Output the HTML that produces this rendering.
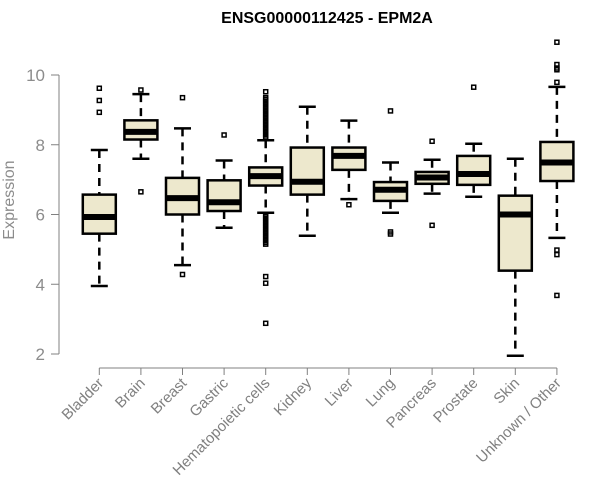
<!DOCTYPE html>
<html><head><meta charset="utf-8"><style>
html,body{margin:0;padding:0;background:#fff;}
svg{display:block;font-family:"Liberation Sans",Arial,sans-serif;}
</style></head><body>
<svg id="chart" width="600" height="500">
<text x="327" y="23" text-anchor="middle" font-size="16" font-weight="bold" fill="#000">ENSG00000112425 - EPM2A</text>
<text transform="translate(14,200) rotate(-90)" text-anchor="middle" font-size="16" fill="#8c8c8c">Expression</text>
<g id="axes"></g>
<g id="boxes"></g>
</svg>
<script>
const categories=["Bladder","Brain","Breast","Gastric","Hematopoietic cells","Kidney","Liver","Lung","Pancreas","Prostate","Skin","Unknown / Other"];
const whiskerLow=[3.95,7.6,4.55,5.62,6.05,5.39,6.44,6.05,6.6,6.51,1.95,5.33];
const q1=[5.45,8.15,6.0,6.1,6.83,6.57,7.28,6.39,6.88,6.85,4.39,6.96];
const medians=[5.93,8.37,6.47,6.35,7.1,6.94,7.68,6.71,7.06,7.16,6.0,7.49];
const q3=[6.57,8.7,7.05,6.98,7.35,7.92,7.92,6.93,7.22,7.68,6.54,8.08];
const whiskerHigh=[7.85,9.45,8.47,7.55,8.13,9.09,8.69,7.49,7.57,8.03,7.6,9.66];
const outliers=[[9.62,9.27,8.93],[9.57,6.65],[9.35,4.28],[8.28],
[9.52,9.35,9.3,9.25,9.2,9.15,9.1,9.05,9.0,8.95,8.9,8.85,8.8,8.75,8.7,8.65,8.6,8.55,8.5,8.45,8.4,8.35,8.3,8.25,8.2,6.0,5.95,5.9,5.85,5.8,5.75,5.7,5.65,5.6,5.55,5.5,5.45,5.4,5.35,5.3,5.25,5.2,5.15,4.22,4.03,2.88],
[],[6.28],[8.97,5.5,5.44],[8.1,5.69],[9.65],[],[10.94,10.3,10.2,10.15,9.79,4.98,4.85,3.68]];
const yTicks=[2,4,6,8,10];
const NS="http://www.w3.org/2000/svg";
const yS=v=>354-(v-2)*34.875;
const xS=i=>99.3+i*41.6;
function mk(tag,attrs,parent){const e=document.createElementNS(NS,tag);for(const k in attrs)e.setAttribute(k,attrs[k]);parent.appendChild(e);return e;}
const ax=document.getElementById('axes'),bx=document.getElementById('boxes');
let yl=mk('line',{x1:59,x2:59,y1:yS(10),y2:yS(2),stroke:'#808080','stroke-width':1},ax);


yTicks.forEach(t=>{
 let l=mk('line',{x1:51,x2:59,y1:yS(t),y2:yS(t),stroke:'#808080'},ax);
 
 
 let tx=mk('text',{x:45,y:yS(t)+6,'text-anchor':'end','font-size':17,fill:'#8c8c8c'},ax);
 tx.textContent=t;
 
 
});
let xl=mk('line',{x1:xS(0),x2:xS(11),y1:368,y2:368,stroke:'#808080'},ax);


categories.forEach((c,i)=>{
 const x=xS(i);
 let l=mk('line',{x1:x,x2:x,y1:368,y2:375,stroke:'#808080'},ax);
 
 
 let tx=mk('text',{x:0,y:0,'text-anchor':'end','font-size':15,fill:'#808080',transform:`translate(${x+5},${384}) rotate(-45)`},ax);
 tx.textContent=c;
 
 
 const g=mk('g',{},bx);
 
 
 const hw=16.5, cw=8.5;
 mk('line',{x1:x,x2:x,y1:yS(whiskerHigh[i]),y2:yS(q3[i]),stroke:'#000','stroke-width':2.5,'stroke-dasharray':'8,6'},g);
 mk('line',{x1:x,x2:x,y1:yS(q1[i]),y2:yS(whiskerLow[i]),stroke:'#000','stroke-width':2.5,'stroke-dasharray':'8,6'},g);
 mk('line',{x1:x-cw,x2:x+cw,y1:yS(whiskerHigh[i]),y2:yS(whiskerHigh[i]),stroke:'#000','stroke-width':2.5},g);
 mk('line',{x1:x-cw,x2:x+cw,y1:yS(whiskerLow[i]),y2:yS(whiskerLow[i]),stroke:'#000','stroke-width':2.5},g);
 mk('rect',{x:x-hw,y:yS(q3[i]),width:hw*2,height:yS(q1[i])-yS(q3[i]),fill:'#ede8cd',stroke:'#000','stroke-width':2.5},g);
 mk('line',{x1:x-hw,x2:x+hw,y1:yS(medians[i]),y2:yS(medians[i]),stroke:'#000','stroke-width':6},g);
 outliers[i].forEach(v=>{
  let r=mk('rect',{x:x-2,y:yS(v)-2,width:4,height:4,fill:'none',stroke:'#000','stroke-width':1.5},g);
  
  
 });
});
</script>
</body></html>
